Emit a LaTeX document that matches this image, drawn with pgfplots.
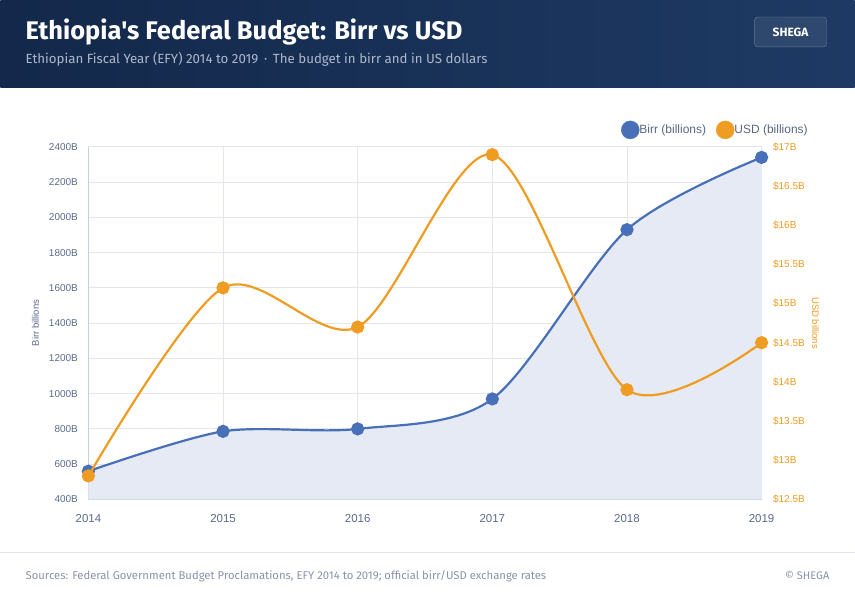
\documentclass[border=0pt]{standalone}
\usepackage{pgfplots}
\pgfplotsset{compat=1.18}
\usepackage{fontspec}
\setmainfont{Liberation Sans}
\newfontfamily\headfont{Fira Sans}
\definecolor{navyL}{HTML}{13284A}
\definecolor{navyR}{HTML}{1E3A64}
\definecolor{birr}{HTML}{4870B8}
\definecolor{usd}{HTML}{EE9C22}
\definecolor{fillc}{HTML}{E6EAF5}
\definecolor{gridc}{HTML}{E3E6EF}
\definecolor{axc}{HTML}{C9CFDC}
\definecolor{slate}{HTML}{5B6A8E}
\definecolor{subc}{HTML}{AEB8CC}
\definecolor{footc}{HTML}{8A94A8}
\definecolor{legc}{HTML}{5A6780}
\begin{document}
\begin{tikzpicture}[x=1pt,y=1pt]
% page
\fill[white] (0,0) rectangle (855,597);
\shade[left color=navyL,right color=navyR] (0,597) rectangle (855,509);
\node[anchor=base west,inner sep=0,text=white,font=\headfont\bfseries\fontsize{25.5}{30}\selectfont] at (25,557) {Ethiopia's Federal Budget: Birr vs USD};
\node[anchor=base west,inner sep=0,text=subc,font=\headfont\fontsize{13.3}{16}\selectfont] at (25,533) {Ethiopian Fiscal Year (EFY) 2014 to 2019 \,\textperiodcentered\, The budget in birr and in US dollars};
\draw[rounded corners=3pt,fill=white,fill opacity=0.08,draw=white,draw opacity=0.3] (755,580) rectangle (827,550);
\node[text=white,font=\headfont\bfseries\fontsize{12}{14}\selectfont] at (791,565) {SHEGA};
% footer
\draw[gridc,line width=1pt] (0,44) -- (855,44);
\node[anchor=base west,inner sep=0,text=footc,font=\headfont\fontsize{11.3}{13}\selectfont] at (25,17) {Sources: Federal Government Budget Proclamations, EFY 2014 to 2019; official birr/USD exchange rates};
\node[anchor=base east,inner sep=0,text=footc,font=\headfont\fontsize{11}{13}\selectfont] at (830,17) {\textcopyright\ SHEGA};
% left axis
\begin{axis}[
  at={(88pt,97pt)}, anchor=south west,
  width=674pt, height=353pt, scale only axis,
  xmin=2014, xmax=2019, ymin=400, ymax=2400,
  axis x line*=bottom, axis y line*=left,
  axis line style={axc,line width=0.9pt,-},
  xtick={2014,2015,2016,2017,2018,2019},
  xticklabels={2014,2015,2016,2017,2018,2019},
  ytick={400,600,800,1000,1200,1400,1600,1800,2000,2200,2400},
  yticklabels={400B,600B,800B,1000B,1200B,1400B,1600B,1800B,2000B,2200B,2400B},
  xmajorgrids, ymajorgrids,
  grid style={gridc,line width=0.8pt},
  major tick length=0pt,
  yticklabel style={font=\fontsize{10}{12}\selectfont,text=slate,xshift=-7pt},
  xticklabel style={font=\fontsize{11.5}{13}\selectfont,text=slate,yshift=-12pt},
  ylabel={Birr billions},
  every axis y label/.style={at={(-53pt,0.5)},rotate=90,anchor=center,font=\fontsize{9.5}{11}\selectfont,text=slate},
  clip mode=individual,
]
\addplot[draw=none,fill=fillc,smooth] coordinates {
(2014,560) (2015,786) (2016,800) (2017,970) (2018,1930) (2019,2340)} \closedcycle;
\addplot[birr,line width=2.2pt,smooth,mark=*,mark size=5.5pt,mark options={fill=birr,draw=none}] coordinates {
(2014,560) (2015,786) (2016,800) (2017,970) (2018,1930) (2019,2340)};
\end{axis}
% right axis
\begin{axis}[
  at={(88pt,97pt)}, anchor=south west,
  width=674pt, height=353pt, scale only axis,
  xmin=2014, xmax=2019, ymin=12.5, ymax=17,
  axis x line=none, axis y line*=right,
  axis line style={draw=none},
  ytick={12.5,13,13.5,14,14.5,15,15.5,16,16.5,17},
  yticklabels={\$12.5B,\$13B,\$13.5B,\$14B,\$14.5B,\$15B,\$15.5B,\$16B,\$16.5B,\$17B},
  major tick length=0pt,
  yticklabel style={font=\fontsize{10}{12}\selectfont,text=usd,xshift=8pt},
  ylabel={USD billions},
  every axis y label/.style={at={(1,0.5)},xshift=54pt,rotate=-90,anchor=center,font=\fontsize{9.5}{11}\selectfont,text=usd},
  clip mode=individual,
  legend style={at={(rel axis cs:0.791,1.048)},anchor=west,draw=none,fill=none,
    font=\fontsize{12}{14}\selectfont,text=legc,legend columns=2,
    /tikz/every even column/.append style={column sep=10pt},
    inner sep=0pt, nodes={inner sep=0pt,anchor=west}},
  legend image code/.code={\fill[#1] (9pt,0pt) circle (9pt); \path (0,0) (18pt,0);},
]
\addlegendimage{birr}
\addlegendentry{Birr (billions)}
\addlegendimage{usd}
\addlegendentry{USD (billions)}
\addplot[usd,line width=2.2pt,smooth,mark=*,mark size=5.5pt,mark options={fill=usd,draw=none},forget plot] coordinates {
(2014,12.8) (2015,15.2) (2016,14.7) (2017,16.9) (2018,13.9) (2019,14.5)};
\end{axis}
\end{tikzpicture}
\end{document}
